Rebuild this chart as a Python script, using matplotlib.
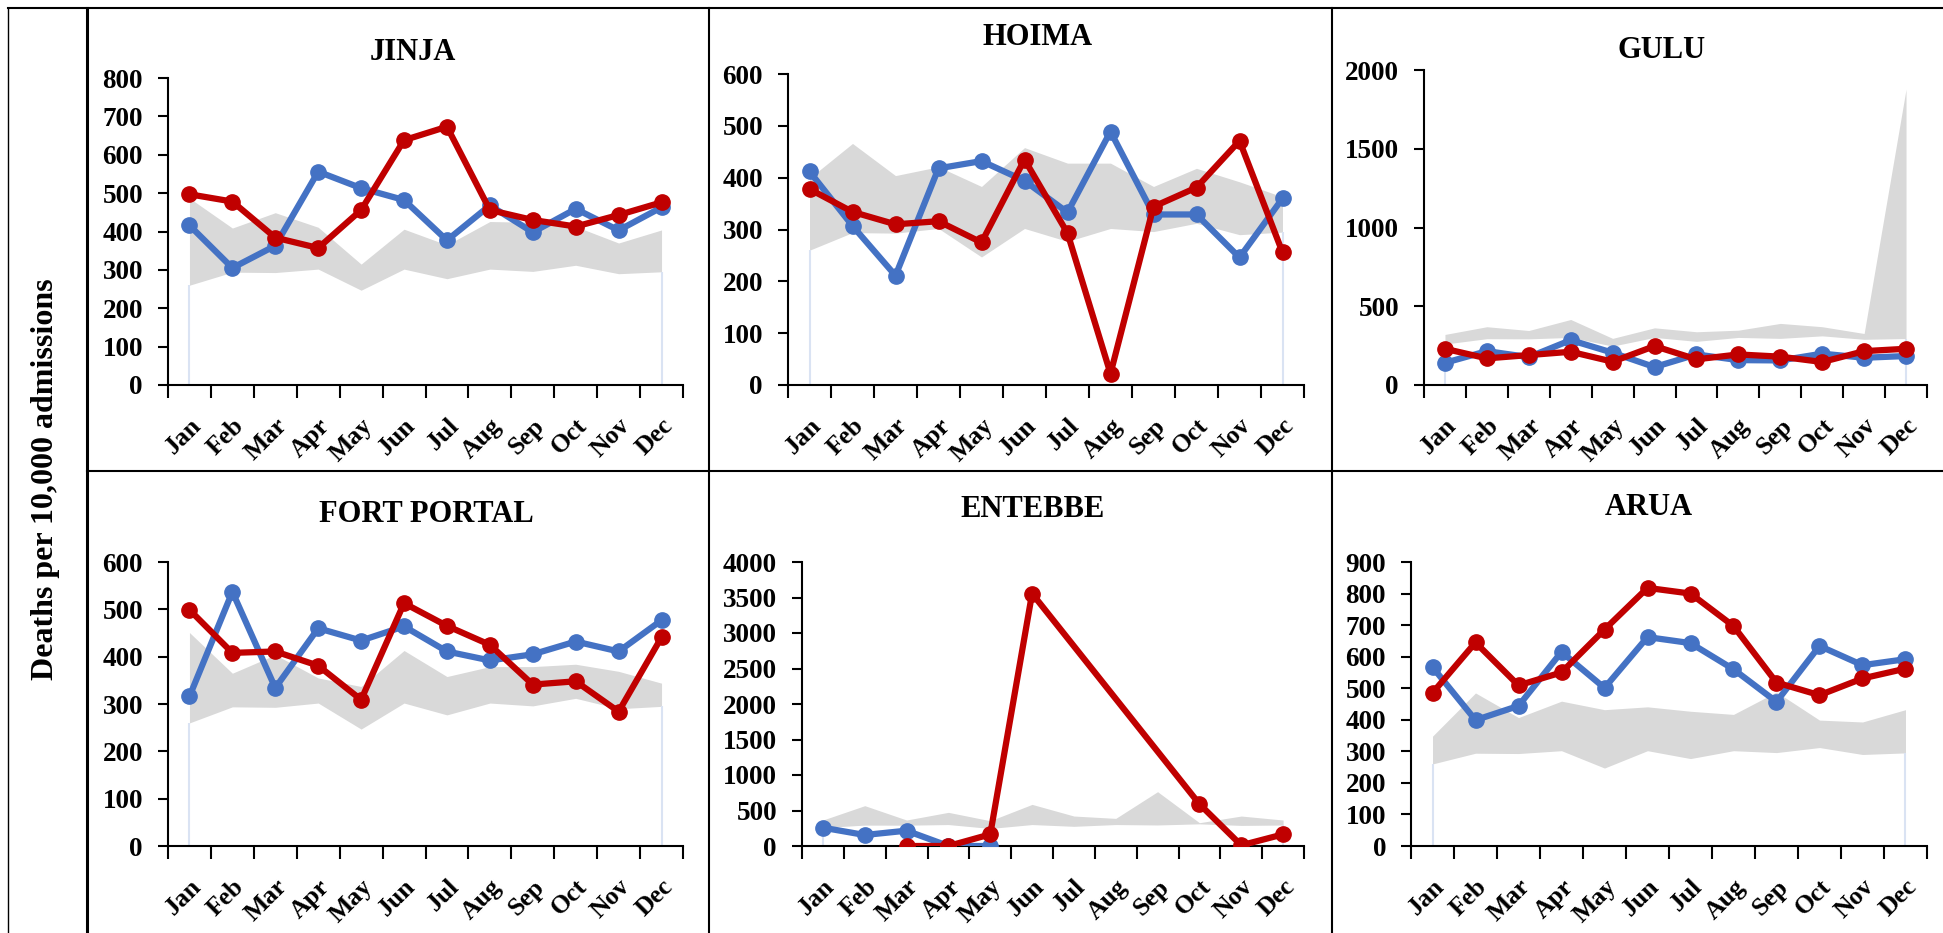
import matplotlib
matplotlib.use("Agg")
import matplotlib.pyplot as plt
import numpy as np
from matplotlib.lines import Line2D

plt.rcParams['font.family'] = ['Liberation Serif', 'DejaVu Serif']
plt.rcParams['font.weight'] = 'bold'

months = ['Jan', 'Feb', 'Mar', 'Apr', 'May', 'Jun', 'Jul', 'Aug', 'Sep', 'Oct', 'Nov', 'Dec']

# lower edge of the grey band (same for every site)
band_low = [260, 294, 293, 302, 247, 302, 277, 302, 296, 312, 290, 295]

jinja_high = [487, 409, 449, 411, 315, 406, 365, 426, 424, 413, 370, 404]
jinja_blue = [416, 305, 363, 556, 513, 482, 377, 468, 398, 459, 403, 463]
jinja_red = [497, 478, 384, 357, 456, 638, 673, 456, 430, 413, 443, 476]

hoima_high = [399, 466, 404, 421, 383, 458, 428, 428, 383, 418, 392, 363]
hoima_blue = [412, 307, 211, 418, 432, 394, 333, 489, 329, 329, 246, 360]
hoima_red = [378, 334, 310, 316, 275, 435, 293, 22, 344, 381, 471, 256]

gulu_high = [321, 370, 346, 416, 296, 363, 338, 348, 391, 370, 327, 1878]
gulu_blue = [141, 215, 177, 285, 205, 114, 194, 158, 156, 199, 173, 184]
gulu_red = [230, 169, 190, 211, 148, 247, 163, 194, 180, 146, 215, 230]

fort_high = [451, 365, 404, 355, 337, 413, 358, 379, 379, 384, 369, 344]
fort_blue = [316, 537, 334, 460, 434, 464, 411, 392, 405, 432, 411, 477]
fort_red = [499, 408, 411, 381, 309, 513, 465, 425, 341, 348, 284, 441]

nan = np.nan
entebbe_high = [366, 568, 366, 474, 356, 586, 422, 389, 765, 328, 422, 366]
entebbe_blue = [258, 155, 216, 0, 0, nan, nan, nan, nan, nan, nan, nan]
entebbe_red = [nan, nan, 0, 0, 164, 3556, nan, nan, nan, 591, 10, 164]

arua_high = [348, 485, 407, 459, 432, 441, 427, 417, 488, 399, 393, 432]
arua_blue = [567, 399, 444, 615, 501, 662, 643, 560, 457, 634, 573, 592]
arua_red = [485, 645, 509, 550, 686, 818, 800, 697, 518, 478, 531, 562]

panels = [
    ('JINJA', jinja_high, jinja_blue, jinja_red, 800, 100, (168, 78, 683, 385), (413, 60)),
    ('HOIMA', hoima_high, hoima_blue, hoima_red, 600, 100, (788, 74, 1304, 385), (1038, 45)),
    ('GULU', gulu_high, gulu_blue, gulu_red, 2000, 500, (1424, 70, 1927, 385), (1662, 58)),
    ('FORT PORTAL', fort_high, fort_blue, fort_red, 600, 100, (168, 562, 683, 846), (426, 522)),
    ('ENTEBBE', entebbe_high, entebbe_blue, entebbe_red, 4000, 500, (802, 562, 1304, 846), (1033, 517)),
    ('ARUA', arua_high, arua_blue, arua_red, 900, 100, (1411, 562, 1927, 846), (1649, 515)),
]

W, H = 1943, 933
fig = plt.figure(figsize=(W / 100, H / 100), dpi=100)

BLUE = '#4472C4'
RED = '#C00000'
GREY = '#D9D9D9'


def plot_series(ax, x, y, color):
    y = np.array(y, dtype=float)
    ok = ~np.isnan(y)
    ax.plot(x[ok], y[ok], color=color, lw=4.5, marker='o', ms=11, zorder=3)


for name, high, blue, red, ymax, step, (l, t, r, b), (tx, ty) in panels:
    ax = fig.add_axes([l / W, 1 - b / H, (r - l) / W, (b - t) / H])
    x = np.arange(12)
    ax.fill_between(x, band_low, high, color=GREY, lw=0, zorder=1)
    ax.vlines([x[0], x[-1]], 0, [band_low[0], band_low[-1]], color='#DAE3F3', lw=1.5, zorder=1)
    plot_series(ax, x, blue, BLUE)
    plot_series(ax, x, red, RED)
    ax.set_xlim(-0.5, 11.5)
    ax.set_ylim(0, ymax)
    ax.set_yticks(np.arange(0, ymax + 1, step))
    ax.set_xticks(np.arange(-0.5, 12, 1))
    ax.set_xticklabels([])
    ax.set_xticks(x, minor=True)
    ax.set_xticklabels(months, minor=True, rotation=45, ha='right', va='top',
                       rotation_mode='anchor', fontsize=18.5, fontweight='bold')
    ax.tick_params(axis='x', which='minor', length=0, pad=21)
    ax.tick_params(axis='x', which='major', length=9, width=1.5, direction='out')
    ax.tick_params(axis='y', length=7, width=1.5, labelsize=19.5, pad=11)
    for lab in ax.get_yticklabels():
        lab.set_fontweight('bold')
    ax.spines['top'].set_visible(False)
    ax.spines['right'].set_visible(False)
    ax.spines['left'].set_linewidth(1.5)
    ax.spines['bottom'].set_linewidth(1.5)
    fig.text(tx / W, 1 - ty / H, name, ha='center', va='baseline', fontsize=22, fontweight='bold')

# table borders
def hline(y, x0, x1, lw):
    fig.add_artist(Line2D([x0 / W, x1 / W], [1 - y / H, 1 - y / H], color='black', lw=lw))


def vline(x, y0, y1, lw):
    fig.add_artist(Line2D([x / W, x / W], [1 - y0 / H, 1 - y1 / H], color='black', lw=lw))


hline(8, 8, W, 1.5)
hline(471, 87, W, 1.5)
vline(8, 8, H, 1.0)
vline(87, 8, H, 2.2)
vline(709, 8, H, 1.5)
vline(1332, 8, H, 1.5)

fig.text(46 / W, 1 - 479 / H, 'Deaths per 10,000 admissions', rotation=90,
         ha='center', va='center', fontsize=23, fontweight='bold')

fig.savefig('out.png', dpi=100)
